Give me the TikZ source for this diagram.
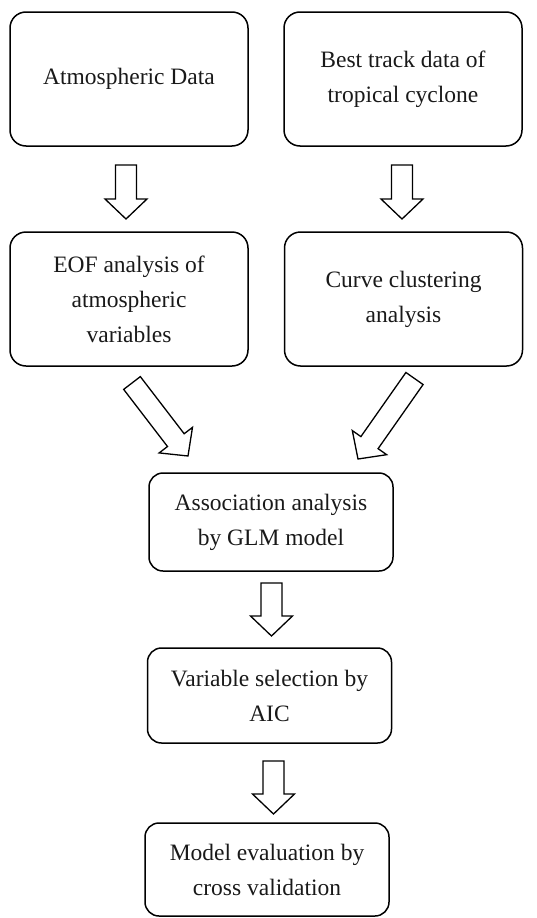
\documentclass[tikz,border=0pt]{standalone}
\usepackage{fontspec}
\setmainfont{Liberation Serif}
\usetikzlibrary{calc}
\tikzset{
  box/.style={draw, line width=1.5pt, rounded corners=16pt, align=center,
    inner sep=0pt, font=\fontsize{23.5}{35}\selectfont, text=black!90},
  bigbox/.style={box, minimum width=238pt, minimum height=134pt},
  smallbox/.style={box, minimum width=244pt, rounded corners=14pt},
  blockarr/.style={draw, line width=1.3pt, fill=white, line join=miter}
}
\newcommand{\blockarrow}[2]{%
  \coordinate (hb) at ($(#2)!20pt!(#1)$);
  \draw[blockarr] ($(#1)!10.5pt!90:(#2)$) -- ($(hb)!10.5pt!90:(#2)$)
    -- ($(hb)!21pt!90:(#2)$) -- (#2) -- ($(hb)!21pt!-90:(#2)$)
    -- ($(hb)!10.5pt!-90:(#2)$) -- ($(#1)!10.5pt!-90:(#2)$) -- cycle;}
\begin{document}
\begin{tikzpicture}[x=1pt, y=-1pt]
\useasboundingbox (0,0) rectangle (536,918);
\node[bigbox] (b1) at (129,79) {Atmospheric Data};
\node[bigbox] (b2) at (403,79) {Best track data of\\tropical cyclone};
\node[bigbox] (b3) at (129,299) {EOF analysis of\\atmospheric\\variables};
\node[bigbox] (b4) at (403.5,299) {Curve clustering\\analysis};
\node[smallbox, minimum height=98pt] (b5) at (271,522) {Association analysis\\by GLM model};
\node[smallbox, minimum height=95pt] (b6) at (269.5,695.5) {Variable selection by\\AIC};
\node[smallbox, minimum height=93pt] (b7) at (267,869.5) {Model evaluation by\\cross validation};

\coordinate (a1s) at (126,165);  \coordinate (a1e) at (126,219);
\coordinate (a2s) at (402,165);  \coordinate (a2e) at (402,219);
\coordinate (a3s) at (132,383);  \coordinate (a3e) at (188,456);
\coordinate (a4s) at (414.5,378.5); \coordinate (a4e) at (358,459);
\coordinate (a5s) at (271.5,583); \coordinate (a5e) at (271.5,636);
\coordinate (a6s) at (273.5,761); \coordinate (a6e) at (273.5,814);

\blockarrow{a1s}{a1e}
\blockarrow{a2s}{a2e}
\blockarrow{a3s}{a3e}
\blockarrow{a4s}{a4e}
\blockarrow{a5s}{a5e}
\blockarrow{a6s}{a6e}
\end{tikzpicture}
\end{document}
